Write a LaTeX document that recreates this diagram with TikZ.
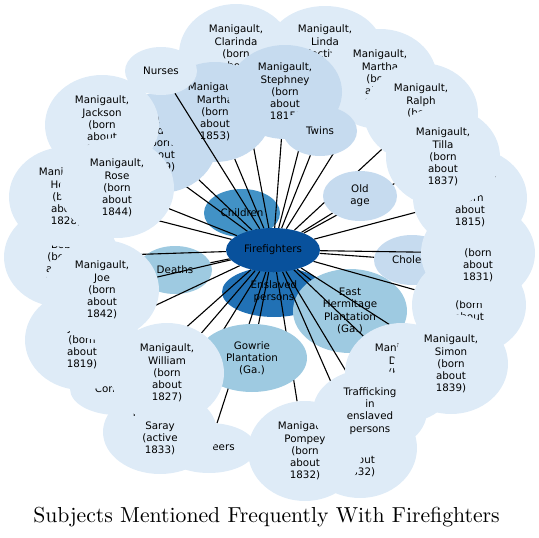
\documentclass[tikz,border=0pt]{standalone}
\usepackage{fontspec}
\setsansfont{DejaVu Sans}
\newfontfamily\titlefont{lmroman10-regular}[Extension=.otf]
\usetikzlibrary{shapes.geometric}

\definecolor{hub}{HTML}{08519C}
\definecolor{deep}{HTML}{2171B5}
\definecolor{mid}{HTML}{4292C6}
\definecolor{light}{HTML}{9ECAE1}
\definecolor{soft}{HTML}{C6DBEF}
\definecolor{pale}{HTML}{DEEBF7}

\pgfdeclarelayer{back}
\pgfdeclarelayer{edges}
\pgfdeclarelayer{front}
\pgfsetlayers{back,edges,main,front}

\begin{document}
\begin{tikzpicture}[x=1pt, y=-1pt,
  every node/.style={font=\sffamily\fontsize{10.3}{12.2}\selectfont, align=center},
  blob/.style n args={2}{ellipse, inner sep=0pt, minimum width=#1, minimum height=#2},
  person/.style={blob={114}{100}, fill=pale},
  person4/.style={blob={114}{84}, fill=pale},
  link/.style={line width=1.1pt, black}]
  \useasboundingbox (0,0) rectangle (539,538);

  % Topics that the links run over
  \begin{pgfonlayer}{back}
    \node[blob={76}{48}, fill=mid] (children) at (242,213) {Children};
    \node[blob={104}{50}, fill=deep] (enslaved) at (274,292) {Enslaved\\persons};
    \node[blob={74}{48}, fill=light] (deaths) at (175,270) {Deaths};
    \node[blob={114}{84}, fill=light] (hermitage) at (350,311) {East\\Hermitage\\Plantation\\(Ga.)};
    \node[blob={76}{50}, fill=soft] (cholera) at (412,260) {Cholera};
  \end{pgfonlayer}

  % Upper ring
  \node[person] (clarinda) at (236,54) {Manigault,\\Clarinda\\(born\\about\\1830)};
  \node[person4] (linda) at (325,48) {Manigault,\\Linda\\(active\\1833)};
  \node[person] (marthab) at (380,79) {Manigault,\\Martha\\(born\\about\\1818)};
  \node[person] (ralph) at (421,113) {Manigault,\\Ralph\\(born\\about\\1840)};
  \node[person, fill=soft] (dido) at (160,143) {Manigault,\\Dido,\\(born\\about\\1829)};
  \node[person, fill=soft] (martha) at (215,112) {Manigault,\\Martha\\(born\\about\\1853)};
  \node[person, fill=soft, minimum height=94] (stephney) at (285,92) {Manigault,\\Stephney\\(born\\about\\1815)};
  \node[blob={74}{50}, fill=soft] (twins) at (320,131) {Twins};
  \node[blob={72}{48}, fill=pale] (nurses) at (161,71) {Nurses};

  % Left ring
  \node[person] (jackson) at (102,125) {Manigault,\\Jackson\\(born\\about\\1835)};
  \node[person] (bob) at (61,257) {Manigault,\\Bob\\(born\\about\\1820)};
  \node[person] (henry) at (66,197) {Manigault,\\Henry\\(born\\about\\1828)};
  \node[person] (rose) at (117,188) {Manigault,\\Rose\\(born\\about\\1844)};
  \node[blob={94}{52}, fill=pale] (convicts) at (117,389) {Convicts};
  \node[person] (jacob) at (82,340) {Manigault,\\Jacob\\(born\\about\\1819)};
  \node[person] (joe) at (102,290) {Manigault,\\Joe\\(born\\about\\1842)};

  % Lower ring
  \node[blob={94}{50}, fill=pale] (engineers) at (209,448) {Engineers};
  \node[person4] (saray) at (160,432) {Manigault,\\Saray\\(active\\1833)};
  \node[blob={110}{68}, fill=light] (gowrie) at (252,358) {Gowrie\\Plantation\\(Ga.)};
  \node[person] (william) at (167,373) {Manigault,\\William\\(born\\about\\1827)};
  \node[person] (peter) at (360,448) {Manigault,\\Peter\\(born\\about\\1832)};
  \node[person] (pompey) at (305,451) {Manigault,\\Pompey\\(born\\about\\1832)};
  \node[person] (delia) at (402,373) {Manigault,\\Delia\\(born\\about\\1835)};
  \node[person4] (trafficking) at (370,411) {Trafficking\\in\\enslaved\\persons};

  % Right ring
  \node[person] (amy) at (469,305) {Manigault,\\Amy\\(born\\about\\1845)};
  \node[person] (simon) at (451,364) {Manigault,\\Simon\\(born\\about\\1839)};
  \node[person] (hector) at (478,253) {Manigault,\\Hector\\(born\\about\\1831)};
  \node[person] (binah) at (470,198) {Manigault,\\Binah\\(born\\about\\1815)};
  \node[person] (tilla) at (443,157) {Manigault,\\Tilla\\(born\\about\\1837)};
  \node[blob={74}{50}, fill=soft] (oldage) at (360,196) {Old\\age};

  % Hub
  \node[blob={94}{44}, fill=hub] (ff) at (273,250) {Firefighters};

  \begin{pgfonlayer}{edges}
    \foreach \t in {children, enslaved, deaths, hermitage, cholera, clarinda,
      linda, marthab, ralph, dido, martha, stephney, twins, jackson, bob,
      henry, rose, convicts, jacob, joe, engineers, saray, gowrie, william,
      peter, pompey, delia, trafficking, amy, simon, hector, binah, tilla, oldage}
      \draw[link] (ff) -- (\t);
  \end{pgfonlayer}
  \begin{pgfonlayer}{front}
    \draw[link] (ff) -- (nurses);
  \end{pgfonlayer}

  \node[font=\titlefont\fontsize{21.7}{26}\selectfont, anchor=base] (title) at (266.5,522)
    {Subjects Mentioned Frequently With Firefighters};
\end{tikzpicture}
\end{document}
